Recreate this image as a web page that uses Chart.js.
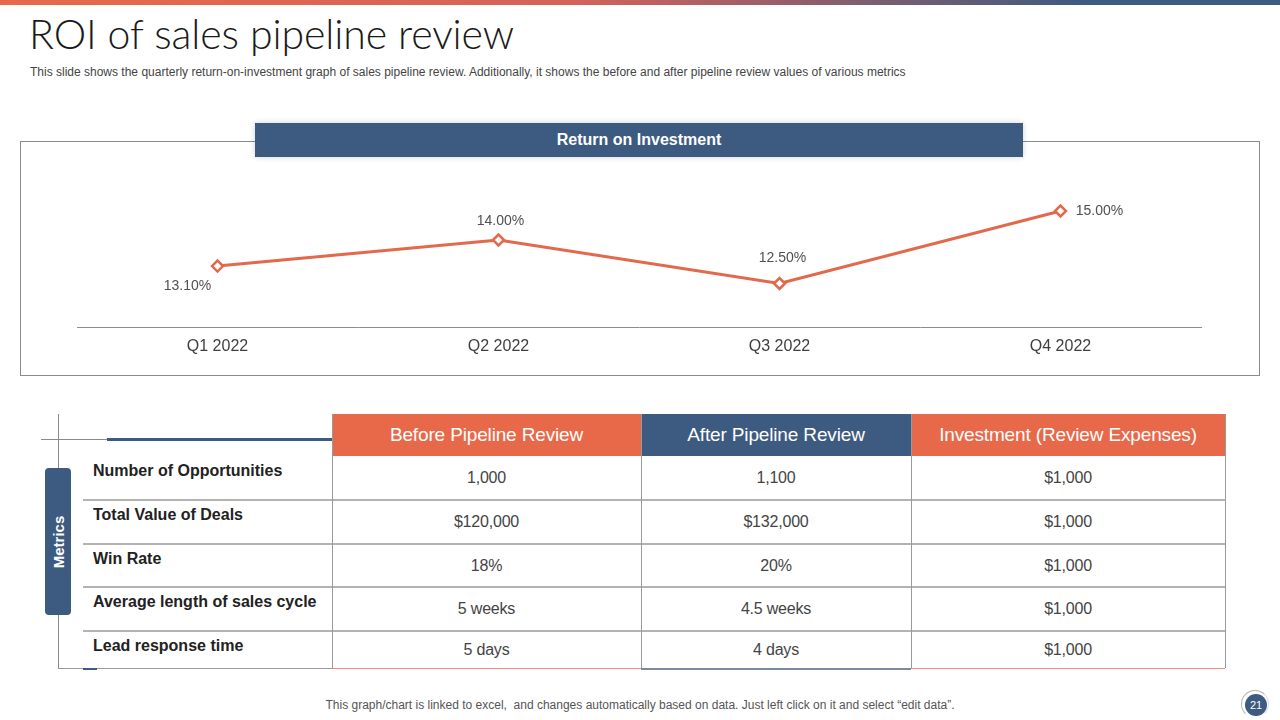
<!DOCTYPE html>
<html>
<head>
<meta charset="utf-8">
<script src="https://cdn.jsdelivr.net/npm/chart.js@4.4.0/dist/chart.umd.min.js"></script>
<style>
  body { margin: 0; width: 1280px; height: 720px; position: relative; background: #fff; overflow: hidden;
         font-family: "Liberation Sans", Arial, sans-serif; }
  .abs { position: absolute; }
  #topbar { left: 0; top: 0; width: 1280px; height: 5px;
            background: linear-gradient(90deg, #e8694a 0%, #d4625a 45%, #3d5a80 85%, #3d5a80 100%); }
  #title { left: 29px; top: 9px; font-family: Lato, "Open Sans", sans-serif; font-weight: 300; font-size: 41px; color: #1a1a1a; white-space: nowrap; letter-spacing: -0.1px; }
  #subtitle { left: 30px; top: 65px; font-size: 12px; color: #444; white-space: nowrap; }
  #chartbox { left: 20px; top: 141px; width: 1238px; height: 233px; border: 1px solid #8a8a8a; }
  #chartwrap { left: 21px; top: 160px; width: 1237px; height: 214px; }
  #roihead { left: 255px; top: 123px; width: 768px; height: 34px; background: #3d5a80; color: #fff;
             font-weight: bold; font-size: 16px; line-height: 34px; text-align: center;
             box-shadow: 0 0 6px rgba(0,0,0,0.18); }
  .line { position: absolute; }
  .cell { position: absolute; box-sizing: border-box; text-align: center; white-space: nowrap; }
  .rowlabel { position: absolute; font-weight: bold; font-size: 16px; color: #222; white-space: nowrap; line-height: 20px; }
  #metrics { left: 45px; top: 468px; width: 26px; height: 147px; background: #3d5a80; border-radius: 4px; }
  #metrics span { position: absolute; left: 50%; top: 50%; transform: translate(-50%, -50%) rotate(-90deg);
                  color: #fff; font-weight: bold; font-size: 15px; white-space: nowrap; }
  #footer { left: 0; width: 1280px; top: 698px; text-align: center; font-size: 12px; color: #555; }
  #pagering { left: 1241px; top: 690px; width: 28px; height: 28px; border-radius: 50%; box-sizing: border-box;
              border: 1px solid #b5b5b5; border-bottom-color: transparent; border-right-color: #ddd; }
  #pagenum { left: 1245px; top: 694px; width: 22px; height: 22px; border-radius: 50%; background: #3d5a80;
             color: #fff; font-size: 11px; line-height: 22px; text-align: center; }
</style>
</head>
<body>
<div id="topbar" class="abs"></div>
<div id="title" class="abs">ROI of sales pipeline review</div>
<div id="subtitle" class="abs">This slide shows the quarterly return-on-investment graph of sales pipeline review. Additionally, it shows the before and after pipeline review values of various metrics</div>

<div id="chartbox" class="abs"></div>
<div id="roihead" class="abs">Return on Investment</div>
<div id="chartwrap" class="abs"><canvas id="chart"></canvas></div>

<div id="table"></div>
<div id="metrics" class="abs"><span>Metrics</span></div>

<div id="footer" class="abs">This graph/chart is linked to excel,&nbsp; and changes automatically based on data. Just left click on it and select “edit data”.</div>
<div id="pagering" class="abs"></div>
<div id="pagenum" class="abs">21</div>

<script>
// chart data
const quarters = ['Q1 2022', 'Q2 2022', 'Q3 2022', 'Q4 2022'];
const roiValues = [13.1, 14.0, 12.5, 15.0];

// table data
const metrics = ['Number of Opportunities', 'Total Value of Deals', 'Win Rate', 'Average length of sales cycle', 'Lead response time'];
const columnHeads = ['Before Pipeline Review', 'After Pipeline Review', 'Investment (Review Expenses)'];
const beforeValues = ['1,000', '$120,000', '18%', '5 weeks', '5 days'];
const afterValues = ['1,100', '$132,000', '20%', '4.5 weeks', '4 days'];
const investmentValues = ['$1,000', '$1,000', '$1,000', '$1,000', '$1,000'];

const ORANGE = '#e8694a';
const NAVY = '#3d5a80';
const LINE = '#e2694b';

// label placement around each point (dx, dy in px)
const labelOffsets = [[-30, 20], [2, -19], [3, -25], [39, 0]];

const pointLabels = {
    id: 'pointLabels',
    afterDatasetsDraw(chart) {
        const c = chart.ctx;
        const meta = chart.getDatasetMeta(0);
        c.save();
        c.font = '14px "Liberation Sans", Arial, sans-serif';
        c.fillStyle = '#505050';
        c.textAlign = 'center';
        c.textBaseline = 'middle';
        meta.data.forEach((pt, i) => {
            const [dx, dy] = labelOffsets[i];
            c.fillText(roiValues[i].toFixed(2) + '%', pt.x + dx, pt.y + dy);
        });
        c.restore();
    }
};

new Chart(document.getElementById('chart'), {
    type: 'line',
    data: {
        labels: quarters,
        datasets: [{
            data: roiValues,
            borderColor: LINE,
            borderWidth: 3,
            pointStyle: 'rectRot',
            pointRadius: 5.5,
            pointBorderWidth: 2.5,
            pointBackgroundColor: '#fff',
            pointBorderColor: LINE,
            tension: 0
        }]
    },
    options: {
        responsive: true,
        maintainAspectRatio: false,
        animation: false,
        layout: { padding: { left: 56, right: 57, top: 22, bottom: 0 } },
        plugins: { legend: { display: false }, tooltip: { enabled: false } },
        scales: {
            x: {
                offset: true,
                grid: { display: false, drawTicks: false },
                border: { display: true, color: '#8c8c8c', width: 1 },
                ticks: { color: '#404040', font: { size: 16, family: '"Liberation Sans", Arial, sans-serif' }, padding: 10 },
                afterFit: s => { s.height = 47; }
            },
            y: { display: false, min: 11, max: 16 }
        }
    },
    plugins: [pointLabels]
});

// table
const table = document.getElementById('table');
const colEdges = [332, 641, 911, 1225];
const headColors = [ORANGE, NAVY, ORANGE];
const rowEdges = [456, 500, 544, 587, 631, 668];
const headTop = 414;

function addLine(x, y, w, h, color) {
    const d = document.createElement('div');
    d.className = 'line';
    Object.assign(d.style, { left: x + 'px', top: y + 'px', width: w + 'px', height: h + 'px', background: color });
    table.appendChild(d);
}

columnHeads.forEach((txt, i) => {
    const d = document.createElement('div');
    d.className = 'cell';
    d.textContent = txt;
    Object.assign(d.style, {
        left: colEdges[i] + 'px', top: headTop + 'px', width: (colEdges[i + 1] - colEdges[i]) + 'px',
        height: (rowEdges[0] - headTop) + 'px', lineHeight: (rowEdges[0] - headTop) + 'px',
        background: headColors[i], color: '#fff', fontSize: '19px', letterSpacing: '-0.15px'
    });
    table.appendChild(d);
});

const cols = [beforeValues, afterValues, investmentValues];
metrics.forEach((m, r) => {
    const top = rowEdges[r], h = rowEdges[r + 1] - rowEdges[r];
    const lab = document.createElement('div');
    lab.className = 'rowlabel';
    lab.textContent = m;
    Object.assign(lab.style, { left: '93px', top: (top + 5) + 'px' });
    table.appendChild(lab);
    cols.forEach((vals, c) => {
        const d = document.createElement('div');
        d.className = 'cell';
        d.textContent = vals[r];
        Object.assign(d.style, {
            left: colEdges[c] + 'px', top: top + 'px', width: (colEdges[c + 1] - colEdges[c]) + 'px',
            height: h + 'px', lineHeight: h + 'px', fontSize: '16px', color: '#444', letterSpacing: '-0.2px'
        });
        table.appendChild(d);
    });
    if (r > 0) addLine(83, top - 1, 1225 - 83, 2, '#b3b3b3');
});

// column lines
colEdges.forEach(x => addLine(x, headTop, 1, 668 - headTop, '#9a9a9a'));
// bottom edges
addLine(58, 668, 332 - 58, 1, '#9a9a9a');
addLine(83, 668, 14, 2, NAVY);
addLine(332, 668, 309, 1, '#ef8c80');
addLine(641, 668, 270, 1.5, '#7a8aa2');
addLine(911, 668, 314, 1, '#ef8c80');
// left frame
addLine(58, 414, 1, 254, '#8a8a8a');
addLine(41, 439, 66, 1, '#8a8a8a');
addLine(107, 438, 225, 3, NAVY);
</script>
</body>
</html>
